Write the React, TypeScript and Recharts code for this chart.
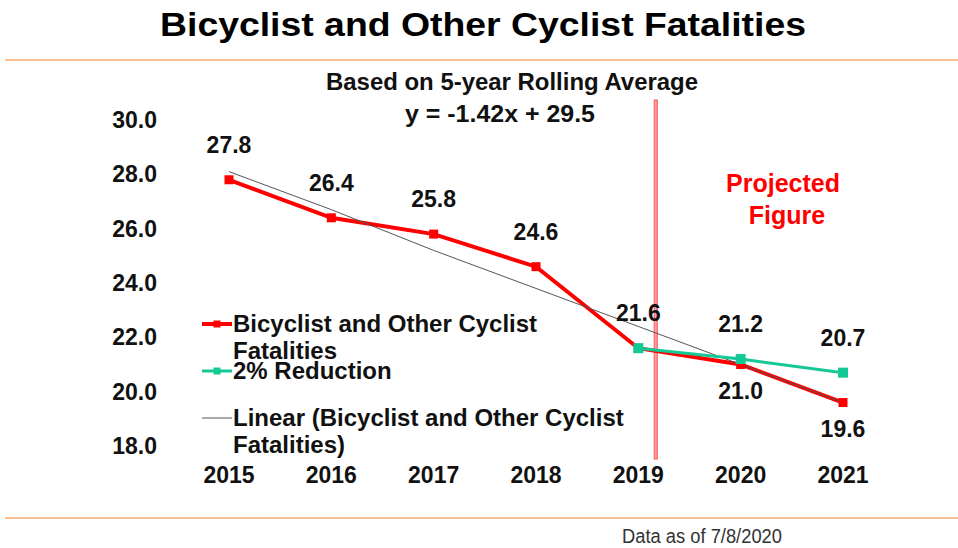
import React from "react";
import {
  LineChart,
  Line,
  XAxis,
  YAxis,
  ReferenceLine,
  Legend,
  LabelList,
} from "recharts";

// values (5-year rolling average)
const years = [2015, 2016, 2017, 2018, 2019, 2020, 2021];
const fatalities = [27.8, 26.4, 25.8, 24.6, 21.6, 21.0, 19.6];
const reduction = [null, null, null, null, 21.6, 21.2, 20.7];
const trend = [28.1, 26.7, 25.2, 23.8, 22.4, 21.0, 19.6];
const yTicks = [18, 20, 22, 24, 26, 28, 30];
const projectionStart = 2019.17;

const data = years.map((year, i) => ({
  year,
  fatalities: fatalities[i],
  reduction: reduction[i],
  trend: trend[i],
}));

const FONT = "'Liberation Sans', Arial, Helvetica, sans-serif";
const RED = "#ff0000";
const GREEN = "#14c995";
const GREY = "#555555";
const ORANGE = "#f9c096";

const squareDot = (size: number, color: string) => (props: any) => {
  const { cx, cy, index } = props;
  if (cx == null || cy == null || props.value == null) return <g key={index} />;
  return (
    <rect
      key={index}
      x={cx - size / 2}
      y={cy - size / 2}
      width={size}
      height={size}
      fill={color}
    />
  );
};

// labels sit above the point, except the last two red ones which go below
const valueLabel = (below: (i: number) => boolean, skip: (i: number) => boolean) =>
  (props: any) => {
    const { x, y, value, index } = props;
    if (value == null || skip(index)) return null;
    const dy = below(index) ? 34 : -27;
    return (
      <text
        key={index}
        x={x}
        y={y + dy}
        textAnchor="middle"
        fontFamily={FONT}
        fontWeight="bold"
        fontSize={23}
        fill="#111"
      >
        {Number(value).toFixed(1)}
      </text>
    );
  };

const LegendIcon = ({ color, width, marker }: { color: string; width: number; marker: boolean }) => (
  <svg width={30} height={28} style={{ position: "absolute", left: 0, top: 0 }}>
    <line x1={0} x2={30} y1={14} y2={14} stroke={color} strokeWidth={width} />
    {marker && <rect x={11.5} y={10.5} width={7} height={7} fill={color} />}
  </svg>
);

const legendRows: Record<string, number> = {
  fatalities: 310,
  reduction: 357,
  trend: 404,
};

const renderLegend = (props: any) => {
  const payload = props.payload || [];
  return (
    <div style={{ position: "relative", width: 958, height: 548 }}>
      {payload.map((entry: any) => {
        const key = entry.dataKey as string;
        const top = legendRows[key];
        if (top == null) return null;
        return (
          <div key={key} style={{ position: "absolute", left: 202, top, width: 440 }}>
            <LegendIcon
              color={entry.color}
              width={key === "trend" ? 1 : key === "fatalities" ? 4 : 3}
              marker={key !== "trend"}
            />
            <div
              style={{
                marginLeft: 31,
                width: 405,
                fontFamily: FONT,
                fontWeight: "bold",
                fontSize: 24,
                lineHeight: "27px",
                color: "#111",
                textAlign: "left",
              }}
            >
              {entry.value}
            </div>
          </div>
        );
      })}
    </div>
  );
};

const ProjectionBar = (props: any) => {
  const { x1, y1, y2 } = props;
  return (
    <rect
      x={x1 - 1.5}
      y={Math.min(y1, y2) - 20}
      width={3}
      height={Math.abs(y2 - y1) + 33}
      fill="#ffa3a3"
      stroke="#ff5050"
      strokeWidth={1}
    />
  );
};

export default function App() {
  return (
    <div
      style={{
        position: "absolute",
        left: 0,
        top: 0,
        width: 958,
        height: 548,
        background: "#fff",
      }}
    >
      <LineChart
        width={958}
        height={548}
        data={data}
        margin={{ top: 120, right: 53.6, bottom: 62, left: 0 }}
      >
        <XAxis
          dataKey="year"
          type="number"
          domain={[2014.4, 2021.6]}
          ticks={years}
          height={40}
          axisLine={false}
          tickLine={false}
          tickSize={0}
          tickMargin={21}
          tick={{ fontFamily: FONT, fontWeight: "bold", fontSize: 23, fill: "#111" }}
        />
        <YAxis
          domain={[18, 30]}
          ticks={yTicks}
          width={167.6}
          axisLine={false}
          tickLine={false}
          tickSize={0}
          tickMargin={10.6}
          tickFormatter={(v: number) => v.toFixed(1)}
          tick={{ fontFamily: FONT, fontWeight: "bold", fontSize: 23, fill: "#111" }}
        />
        <ReferenceLine x={projectionStart} shape={ProjectionBar} />
        <Line
          dataKey="fatalities"
          name="Bicyclist and Other Cyclist Fatalities"
          stroke={RED}
          strokeWidth={4}
          dot={squareDot(9, RED)}
          activeDot={false}
          isAnimationActive={false}
        >
          <LabelList
            dataKey="fatalities"
            content={valueLabel((i) => i >= 5, () => false)}
          />
        </Line>
        <Line
          dataKey="trend"
          name="Linear (Bicyclist and Other Cyclist Fatalities)"
          stroke={GREY}
          strokeWidth={1}
          dot={false}
          activeDot={false}
          isAnimationActive={false}
        />
        <Line
          dataKey="reduction"
          name="2% Reduction"
          stroke={GREEN}
          strokeWidth={3}
          dot={squareDot(10, GREEN)}
          activeDot={false}
          isAnimationActive={false}
        >
          <LabelList
            dataKey="reduction"
            content={valueLabel(() => false, (i) => i === 4)}
          />
        </Line>
        <Legend
          layout="vertical"
          align="center"
          verticalAlign="middle"
          content={renderLegend}
          wrapperStyle={{ left: 0, top: 0, width: 958, height: 548, pointerEvents: "none" }}
        />
      </LineChart>
      <svg
        width={958}
        height={548}
        style={{ position: "absolute", left: 0, top: 0, pointerEvents: "none" }}
      >
        <text
          x={483}
          y={36}
          textAnchor="middle"
          fontFamily={FONT}
          fontWeight="bold"
          fontSize={33}
          textLength={646}
          lengthAdjust="spacingAndGlyphs"
          fill="#000"
        >
          Bicyclist and Other Cyclist Fatalities
        </text>
        <line x1={5} x2={958} y1={60} y2={60} stroke={ORANGE} strokeWidth={2} />
        <text
          x={512}
          y={90}
          textAnchor="middle"
          fontFamily={FONT}
          fontWeight="bold"
          fontSize={23}
          textLength={372}
          lengthAdjust="spacingAndGlyphs"
          fill="#111"
        >
          Based on 5-year Rolling Average
        </text>
        <text
          x={500}
          y={122}
          textAnchor="middle"
          fontFamily={FONT}
          fontWeight="bold"
          fontSize={23}
          textLength={190}
          lengthAdjust="spacingAndGlyphs"
          fill="#111"
        >
          y = -1.42x + 29.5
        </text>
        <text
          x={783}
          y={192}
          textAnchor="middle"
          fontFamily={FONT}
          fontWeight="bold"
          fontSize={25}
          fill={RED}
        >
          Projected
        </text>
        <text
          x={787}
          y={224}
          textAnchor="middle"
          fontFamily={FONT}
          fontWeight="bold"
          fontSize={25}
          fill={RED}
        >
          Figure
        </text>
        <line x1={5} x2={958} y1={518} y2={518} stroke={ORANGE} strokeWidth={2} />
        <text
          x={622}
          y={543}
          fontFamily={FONT}
          fontSize={20}
          textLength={160}
          lengthAdjust="spacingAndGlyphs"
          fill="#333"
        >
          Data as of 7/8/2020
        </text>
      </svg>
    </div>
  );
}
